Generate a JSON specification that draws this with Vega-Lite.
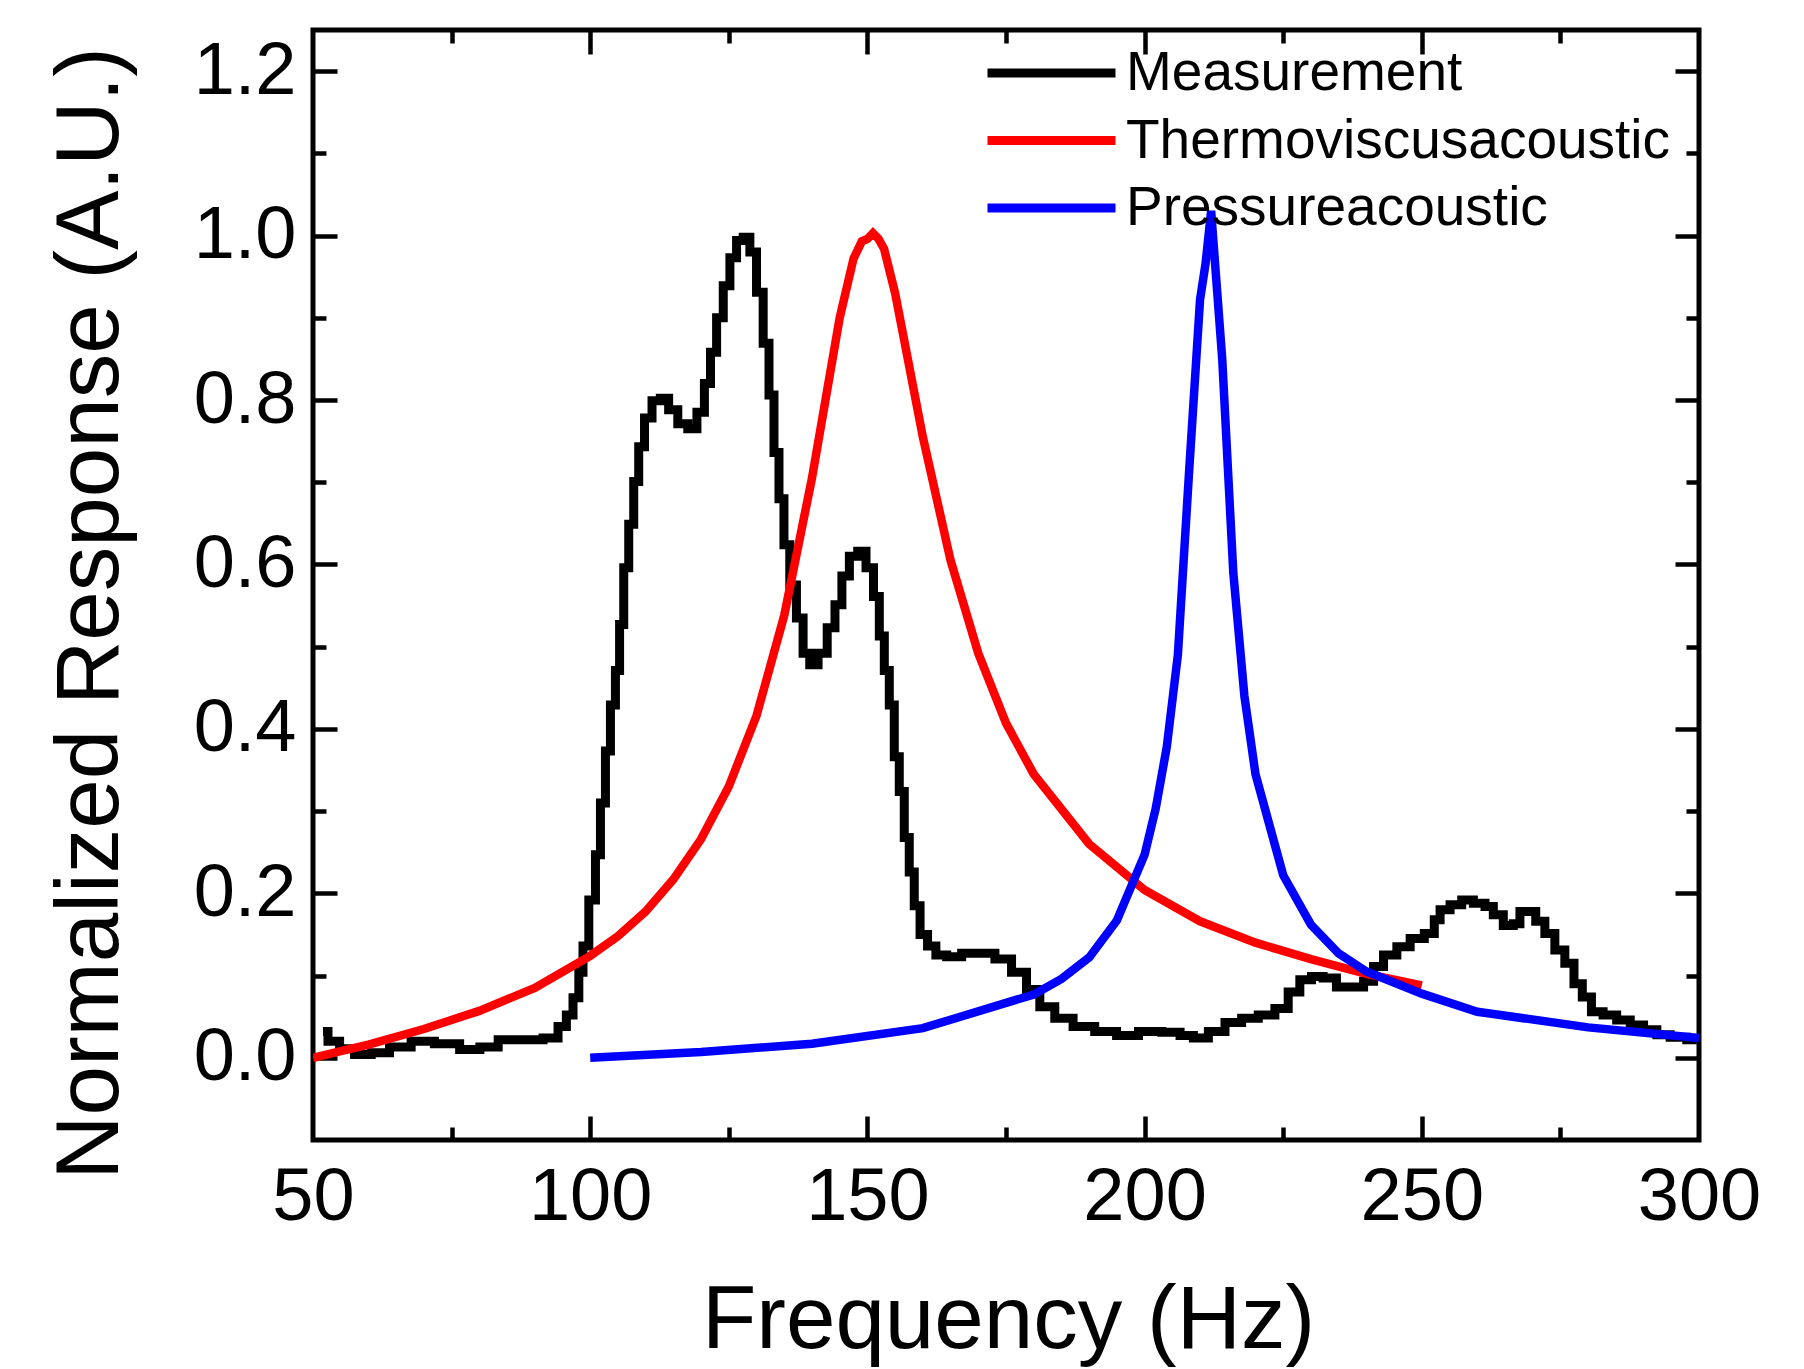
{
  "$schema": "https://vega.github.io/schema/vega-lite/v6.json",
  "width": 1386,
  "height": 1110,
  "autosize": {"type": "none"},
  "padding": {"left": 313, "top": 30, "right": 105, "bottom": 229},
  "background": "white",
  "config": {
    "view": {"stroke": "black", "strokeWidth": 5},
    "axis": {
      "grid": false,
      "domain": false,
      "tickColor": "black",
      "tickWidth": 4.5,
      "labelColor": "black",
      "labelFont": "Liberation Sans",
      "labelFontSize": 74,
      "labelFlush": false,
      "labelOverlap": false,
      "titleColor": "black",
      "titleFont": "Liberation Sans",
      "titleFontWeight": "normal",
      "titleFontSize": 89
    }
  },
  "data": {
    "values": [
      {"f": 51.8, "r": 0.032, "s": "Measurement"},
      {"f": 53.6, "r": 0.020, "s": "Measurement"},
      {"f": 56.0, "r": 0.011, "s": "Measurement"},
      {"f": 59.0, "r": 0.004, "s": "Measurement"},
      {"f": 62.0, "r": 0.006, "s": "Measurement"},
      {"f": 65.6, "r": 0.013, "s": "Measurement"},
      {"f": 69.8, "r": 0.020, "s": "Measurement"},
      {"f": 74.0, "r": 0.017, "s": "Measurement"},
      {"f": 78.9, "r": 0.010, "s": "Measurement"},
      {"f": 81.3, "r": 0.013, "s": "Measurement"},
      {"f": 85.5, "r": 0.022, "s": "Measurement"},
      {"f": 89.7, "r": 0.022, "s": "Measurement"},
      {"f": 93.3, "r": 0.024, "s": "Measurement"},
      {"f": 95.1, "r": 0.038, "s": "Measurement"},
      {"f": 96.3, "r": 0.052, "s": "Measurement"},
      {"f": 97.5, "r": 0.073, "s": "Measurement"},
      {"f": 98.4, "r": 0.104, "s": "Measurement"},
      {"f": 99.0, "r": 0.136, "s": "Measurement"},
      {"f": 100.5, "r": 0.192, "s": "Measurement"},
      {"f": 101.4, "r": 0.247, "s": "Measurement"},
      {"f": 102.3, "r": 0.310, "s": "Measurement"},
      {"f": 103.2, "r": 0.373, "s": "Measurement"},
      {"f": 104.1, "r": 0.429, "s": "Measurement"},
      {"f": 105.0, "r": 0.471, "s": "Measurement"},
      {"f": 105.6, "r": 0.527, "s": "Measurement"},
      {"f": 106.5, "r": 0.596, "s": "Measurement"},
      {"f": 107.4, "r": 0.649, "s": "Measurement"},
      {"f": 108.3, "r": 0.701, "s": "Measurement"},
      {"f": 109.2, "r": 0.743, "s": "Measurement"},
      {"f": 110.4, "r": 0.778, "s": "Measurement"},
      {"f": 111.9, "r": 0.799, "s": "Measurement"},
      {"f": 113.4, "r": 0.802, "s": "Measurement"},
      {"f": 114.9, "r": 0.788, "s": "Measurement"},
      {"f": 116.7, "r": 0.771, "s": "Measurement"},
      {"f": 118.5, "r": 0.765, "s": "Measurement"},
      {"f": 120.0, "r": 0.785, "s": "Measurement"},
      {"f": 121.2, "r": 0.820, "s": "Measurement"},
      {"f": 122.2, "r": 0.858, "s": "Measurement"},
      {"f": 123.4, "r": 0.900, "s": "Measurement"},
      {"f": 124.6, "r": 0.939, "s": "Measurement"},
      {"f": 125.8, "r": 0.973, "s": "Measurement"},
      {"f": 127.0, "r": 0.994, "s": "Measurement"},
      {"f": 128.2, "r": 0.998, "s": "Measurement"},
      {"f": 129.4, "r": 0.980, "s": "Measurement"},
      {"f": 130.6, "r": 0.931, "s": "Measurement"},
      {"f": 131.8, "r": 0.869, "s": "Measurement"},
      {"f": 132.7, "r": 0.806, "s": "Measurement"},
      {"f": 133.6, "r": 0.736, "s": "Measurement"},
      {"f": 134.5, "r": 0.680, "s": "Measurement"},
      {"f": 135.4, "r": 0.624, "s": "Measurement"},
      {"f": 136.6, "r": 0.575, "s": "Measurement"},
      {"f": 137.8, "r": 0.535, "s": "Measurement"},
      {"f": 139.0, "r": 0.492, "s": "Measurement"},
      {"f": 140.2, "r": 0.478, "s": "Measurement"},
      {"f": 142.0, "r": 0.492, "s": "Measurement"},
      {"f": 143.5, "r": 0.523, "s": "Measurement"},
      {"f": 144.8, "r": 0.551, "s": "Measurement"},
      {"f": 146.0, "r": 0.586, "s": "Measurement"},
      {"f": 147.5, "r": 0.610, "s": "Measurement"},
      {"f": 149.0, "r": 0.616, "s": "Measurement"},
      {"f": 150.5, "r": 0.596, "s": "Measurement"},
      {"f": 151.7, "r": 0.561, "s": "Measurement"},
      {"f": 152.6, "r": 0.513, "s": "Measurement"},
      {"f": 153.5, "r": 0.471, "s": "Measurement"},
      {"f": 154.4, "r": 0.429, "s": "Measurement"},
      {"f": 155.3, "r": 0.366, "s": "Measurement"},
      {"f": 156.2, "r": 0.324, "s": "Measurement"},
      {"f": 157.1, "r": 0.268, "s": "Measurement"},
      {"f": 158.0, "r": 0.226, "s": "Measurement"},
      {"f": 158.9, "r": 0.185, "s": "Measurement"},
      {"f": 160.1, "r": 0.150, "s": "Measurement"},
      {"f": 161.6, "r": 0.136, "s": "Measurement"},
      {"f": 163.1, "r": 0.125, "s": "Measurement"},
      {"f": 165.5, "r": 0.123, "s": "Measurement"},
      {"f": 168.5, "r": 0.127, "s": "Measurement"},
      {"f": 171.5, "r": 0.127, "s": "Measurement"},
      {"f": 174.5, "r": 0.120, "s": "Measurement"},
      {"f": 177.5, "r": 0.104, "s": "Measurement"},
      {"f": 179.9, "r": 0.083, "s": "Measurement"},
      {"f": 182.3, "r": 0.062, "s": "Measurement"},
      {"f": 185.3, "r": 0.048, "s": "Measurement"},
      {"f": 188.9, "r": 0.038, "s": "Measurement"},
      {"f": 193.1, "r": 0.032, "s": "Measurement"},
      {"f": 196.8, "r": 0.027, "s": "Measurement"},
      {"f": 201.0, "r": 0.032, "s": "Measurement"},
      {"f": 205.2, "r": 0.031, "s": "Measurement"},
      {"f": 207.6, "r": 0.027, "s": "Measurement"},
      {"f": 210.0, "r": 0.024, "s": "Measurement"},
      {"f": 213.0, "r": 0.032, "s": "Measurement"},
      {"f": 216.0, "r": 0.043, "s": "Measurement"},
      {"f": 219.0, "r": 0.048, "s": "Measurement"},
      {"f": 222.0, "r": 0.052, "s": "Measurement"},
      {"f": 225.0, "r": 0.060, "s": "Measurement"},
      {"f": 226.8, "r": 0.080, "s": "Measurement"},
      {"f": 229.2, "r": 0.095, "s": "Measurement"},
      {"f": 231.0, "r": 0.099, "s": "Measurement"},
      {"f": 233.4, "r": 0.097, "s": "Measurement"},
      {"f": 235.8, "r": 0.086, "s": "Measurement"},
      {"f": 238.3, "r": 0.086, "s": "Measurement"},
      {"f": 240.7, "r": 0.093, "s": "Measurement"},
      {"f": 241.9, "r": 0.111, "s": "Measurement"},
      {"f": 244.3, "r": 0.125, "s": "Measurement"},
      {"f": 246.7, "r": 0.135, "s": "Measurement"},
      {"f": 249.1, "r": 0.145, "s": "Measurement"},
      {"f": 251.8, "r": 0.151, "s": "Measurement"},
      {"f": 252.7, "r": 0.168, "s": "Measurement"},
      {"f": 253.9, "r": 0.180, "s": "Measurement"},
      {"f": 256.3, "r": 0.186, "s": "Measurement"},
      {"f": 258.1, "r": 0.192, "s": "Measurement"},
      {"f": 260.5, "r": 0.188, "s": "Measurement"},
      {"f": 262.3, "r": 0.184, "s": "Measurement"},
      {"f": 263.5, "r": 0.174, "s": "Measurement"},
      {"f": 265.9, "r": 0.161, "s": "Measurement"},
      {"f": 267.1, "r": 0.163, "s": "Measurement"},
      {"f": 268.3, "r": 0.178, "s": "Measurement"},
      {"f": 269.8, "r": 0.178, "s": "Measurement"},
      {"f": 271.3, "r": 0.166, "s": "Measurement"},
      {"f": 273.1, "r": 0.151, "s": "Measurement"},
      {"f": 274.9, "r": 0.131, "s": "Measurement"},
      {"f": 276.7, "r": 0.115, "s": "Measurement"},
      {"f": 278.2, "r": 0.090, "s": "Measurement"},
      {"f": 279.7, "r": 0.074, "s": "Measurement"},
      {"f": 281.5, "r": 0.056, "s": "Measurement"},
      {"f": 283.9, "r": 0.052, "s": "Measurement"},
      {"f": 286.4, "r": 0.046, "s": "Measurement"},
      {"f": 288.8, "r": 0.040, "s": "Measurement"},
      {"f": 291.2, "r": 0.034, "s": "Measurement"},
      {"f": 293.6, "r": 0.028, "s": "Measurement"},
      {"f": 296.0, "r": 0.025, "s": "Measurement"},
      {"f": 299.6, "r": 0.022, "s": "Measurement"},
      {"f": 50, "r": 0.000, "s": "Thermoviscusacoustic"},
      {"f": 55, "r": 0.008, "s": "Thermoviscusacoustic"},
      {"f": 60, "r": 0.016, "s": "Thermoviscusacoustic"},
      {"f": 70, "r": 0.035, "s": "Thermoviscusacoustic"},
      {"f": 80, "r": 0.057, "s": "Thermoviscusacoustic"},
      {"f": 90, "r": 0.085, "s": "Thermoviscusacoustic"},
      {"f": 100, "r": 0.124, "s": "Thermoviscusacoustic"},
      {"f": 105, "r": 0.148, "s": "Thermoviscusacoustic"},
      {"f": 110, "r": 0.178, "s": "Thermoviscusacoustic"},
      {"f": 115, "r": 0.217, "s": "Thermoviscusacoustic"},
      {"f": 120, "r": 0.266, "s": "Thermoviscusacoustic"},
      {"f": 125, "r": 0.330, "s": "Thermoviscusacoustic"},
      {"f": 130, "r": 0.416, "s": "Thermoviscusacoustic"},
      {"f": 135, "r": 0.538, "s": "Thermoviscusacoustic"},
      {"f": 140, "r": 0.705, "s": "Thermoviscusacoustic"},
      {"f": 145, "r": 0.900, "s": "Thermoviscusacoustic"},
      {"f": 147.5, "r": 0.972, "s": "Thermoviscusacoustic"},
      {"f": 149, "r": 0.993, "s": "Thermoviscusacoustic"},
      {"f": 150, "r": 0.996, "s": "Thermoviscusacoustic"},
      {"f": 151, "r": 1.003, "s": "Thermoviscusacoustic"},
      {"f": 152, "r": 0.996, "s": "Thermoviscusacoustic"},
      {"f": 153, "r": 0.984, "s": "Thermoviscusacoustic"},
      {"f": 155, "r": 0.930, "s": "Thermoviscusacoustic"},
      {"f": 160, "r": 0.755, "s": "Thermoviscusacoustic"},
      {"f": 165, "r": 0.605, "s": "Thermoviscusacoustic"},
      {"f": 170, "r": 0.492, "s": "Thermoviscusacoustic"},
      {"f": 175, "r": 0.407, "s": "Thermoviscusacoustic"},
      {"f": 180, "r": 0.345, "s": "Thermoviscusacoustic"},
      {"f": 190, "r": 0.260, "s": "Thermoviscusacoustic"},
      {"f": 200, "r": 0.204, "s": "Thermoviscusacoustic"},
      {"f": 210, "r": 0.166, "s": "Thermoviscusacoustic"},
      {"f": 220, "r": 0.140, "s": "Thermoviscusacoustic"},
      {"f": 230, "r": 0.120, "s": "Thermoviscusacoustic"},
      {"f": 240, "r": 0.102, "s": "Thermoviscusacoustic"},
      {"f": 250, "r": 0.088, "s": "Thermoviscusacoustic"},
      {"f": 100, "r": 0.000, "s": "Pressureacoustic"},
      {"f": 120, "r": 0.007, "s": "Pressureacoustic"},
      {"f": 140, "r": 0.017, "s": "Pressureacoustic"},
      {"f": 160, "r": 0.036, "s": "Pressureacoustic"},
      {"f": 180, "r": 0.077, "s": "Pressureacoustic"},
      {"f": 185, "r": 0.096, "s": "Pressureacoustic"},
      {"f": 190, "r": 0.122, "s": "Pressureacoustic"},
      {"f": 195, "r": 0.167, "s": "Pressureacoustic"},
      {"f": 200, "r": 0.247, "s": "Pressureacoustic"},
      {"f": 202, "r": 0.303, "s": "Pressureacoustic"},
      {"f": 204, "r": 0.378, "s": "Pressureacoustic"},
      {"f": 206, "r": 0.490, "s": "Pressureacoustic"},
      {"f": 208, "r": 0.710, "s": "Pressureacoustic"},
      {"f": 210, "r": 0.922, "s": "Pressureacoustic"},
      {"f": 211, "r": 0.966, "s": "Pressureacoustic"},
      {"f": 212, "r": 1.030, "s": "Pressureacoustic"},
      {"f": 214, "r": 0.850, "s": "Pressureacoustic"},
      {"f": 216, "r": 0.590, "s": "Pressureacoustic"},
      {"f": 218, "r": 0.440, "s": "Pressureacoustic"},
      {"f": 220, "r": 0.345, "s": "Pressureacoustic"},
      {"f": 225, "r": 0.222, "s": "Pressureacoustic"},
      {"f": 230, "r": 0.162, "s": "Pressureacoustic"},
      {"f": 235, "r": 0.127, "s": "Pressureacoustic"},
      {"f": 240, "r": 0.105, "s": "Pressureacoustic"},
      {"f": 250, "r": 0.078, "s": "Pressureacoustic"},
      {"f": 260, "r": 0.056, "s": "Pressureacoustic"},
      {"f": 280, "r": 0.037, "s": "Pressureacoustic"},
      {"f": 300, "r": 0.024, "s": "Pressureacoustic"}
    ]
  },
  "layer": [
    {
      "transform": [{"filter": "datum.s === 'Measurement'"}],
      "mark": {"type": "line", "strokeWidth": 9, "clip": true, "interpolate": "step"},
      "encoding": {
        "x": {"field": "f", "type": "quantitative", "scale": {"domain": [50, 300], "nice": false, "zero": false}, "axis": null},
        "y": {"field": "r", "type": "quantitative", "scale": {"domain": [-0.1, 1.25], "nice": false, "zero": false}, "axis": null},
        "color": {
          "field": "s", "type": "nominal",
          "scale": {"domain": ["Measurement", "Thermoviscusacoustic", "Pressureacoustic"], "range": ["#000000", "#ff0000", "#0000ff"]},
          "legend": {"orient": "none", "legendX": 670, "legendY": 15, "title": null, "symbolType": "stroke", "symbolStrokeWidth": 9, "symbolSize": 16384, "clipHeight": 56, "rowPadding": 11.5, "labelFontSize": 55, "labelFont": "Liberation Sans", "labelColor": "black", "labelOffset": 6, "labelLimit": 0, "padding": 0}
        }
      }
    },
    {
      "transform": [{"filter": "datum.s === 'Thermoviscusacoustic'"}],
      "mark": {"type": "line", "strokeWidth": 8.5, "clip": true},
      "encoding": {
        "x": {"field": "f", "type": "quantitative", "axis": null},
        "y": {"field": "r", "type": "quantitative", "axis": null},
        "color": {"field": "s", "type": "nominal"}
      }
    },
    {
      "transform": [{"filter": "datum.s === 'Pressureacoustic'"}],
      "mark": {"type": "line", "strokeWidth": 8.5, "clip": true},
      "encoding": {
        "x": {"field": "f", "type": "quantitative", "axis": null},
        "y": {"field": "r", "type": "quantitative", "axis": null},
        "color": {"field": "s", "type": "nominal"}
      }
    },
    {
      "mark": {"type": "point", "opacity": 0},
      "encoding": {
        "x": {"field": "f", "type": "quantitative", "axis": {"orient": "bottom", "values": [50, 100, 150, 200, 250, 300], "ticks": false, "labelPadding": 21, "title": "Frequency (Hz)", "titleX": 695, "titleY": 207, "titleBaseline": "alphabetic", "titleAlign": "center"}},
        "y": {"field": "r", "type": "quantitative", "axis": {"orient": "left", "values": [0, 0.2, 0.4, 0.6, 0.8, 1.0, 1.2], "format": ".1f", "ticks": false, "labelPadding": 17, "title": "Normalized Response (A.U.)", "titleX": -196, "titleY": 583, "titleAngle": 270, "titleBaseline": "alphabetic", "titleAlign": "center"}}
      }
    },
    {
      "mark": {"type": "point", "opacity": 0},
      "encoding": {
        "x": {"field": "f", "type": "quantitative", "axis": {"orient": "bottom", "values": [100, 150, 200, 250], "tickSize": -24, "labels": false, "title": null}},
        "y": {"field": "r", "type": "quantitative", "axis": {"orient": "left", "values": [0, 0.2, 0.4, 0.6, 0.8, 1.0, 1.2], "tickSize": -24, "labels": false, "title": null}}
      }
    },
    {
      "mark": {"type": "point", "opacity": 0},
      "encoding": {
        "x": {"field": "f", "type": "quantitative", "axis": {"orient": "bottom", "values": [75, 125, 175, 225, 275], "tickSize": -13, "labels": false, "title": null}},
        "y": {"field": "r", "type": "quantitative", "axis": {"orient": "left", "values": [0.1, 0.3, 0.5, 0.7, 0.9, 1.1], "tickSize": -13, "labels": false, "title": null}}
      }
    },
    {
      "mark": {"type": "point", "opacity": 0},
      "encoding": {
        "x": {"field": "f", "type": "quantitative", "axis": {"orient": "top", "values": [100, 150, 200, 250], "tickSize": -24, "labels": false, "title": null}},
        "y": {"field": "r", "type": "quantitative", "axis": {"orient": "right", "values": [0, 0.2, 0.4, 0.6, 0.8, 1.0, 1.2], "tickSize": -24, "labels": false, "title": null}}
      }
    },
    {
      "mark": {"type": "point", "opacity": 0},
      "encoding": {
        "x": {"field": "f", "type": "quantitative", "axis": {"orient": "top", "values": [75, 125, 175, 225, 275], "tickSize": -13, "labels": false, "title": null}},
        "y": {"field": "r", "type": "quantitative", "axis": {"orient": "right", "values": [0.1, 0.3, 0.5, 0.7, 0.9, 1.1], "tickSize": -13, "labels": false, "title": null}}
      }
    }
  ],
  "resolve": {"axis": {"x": "independent", "y": "independent"}}
}
